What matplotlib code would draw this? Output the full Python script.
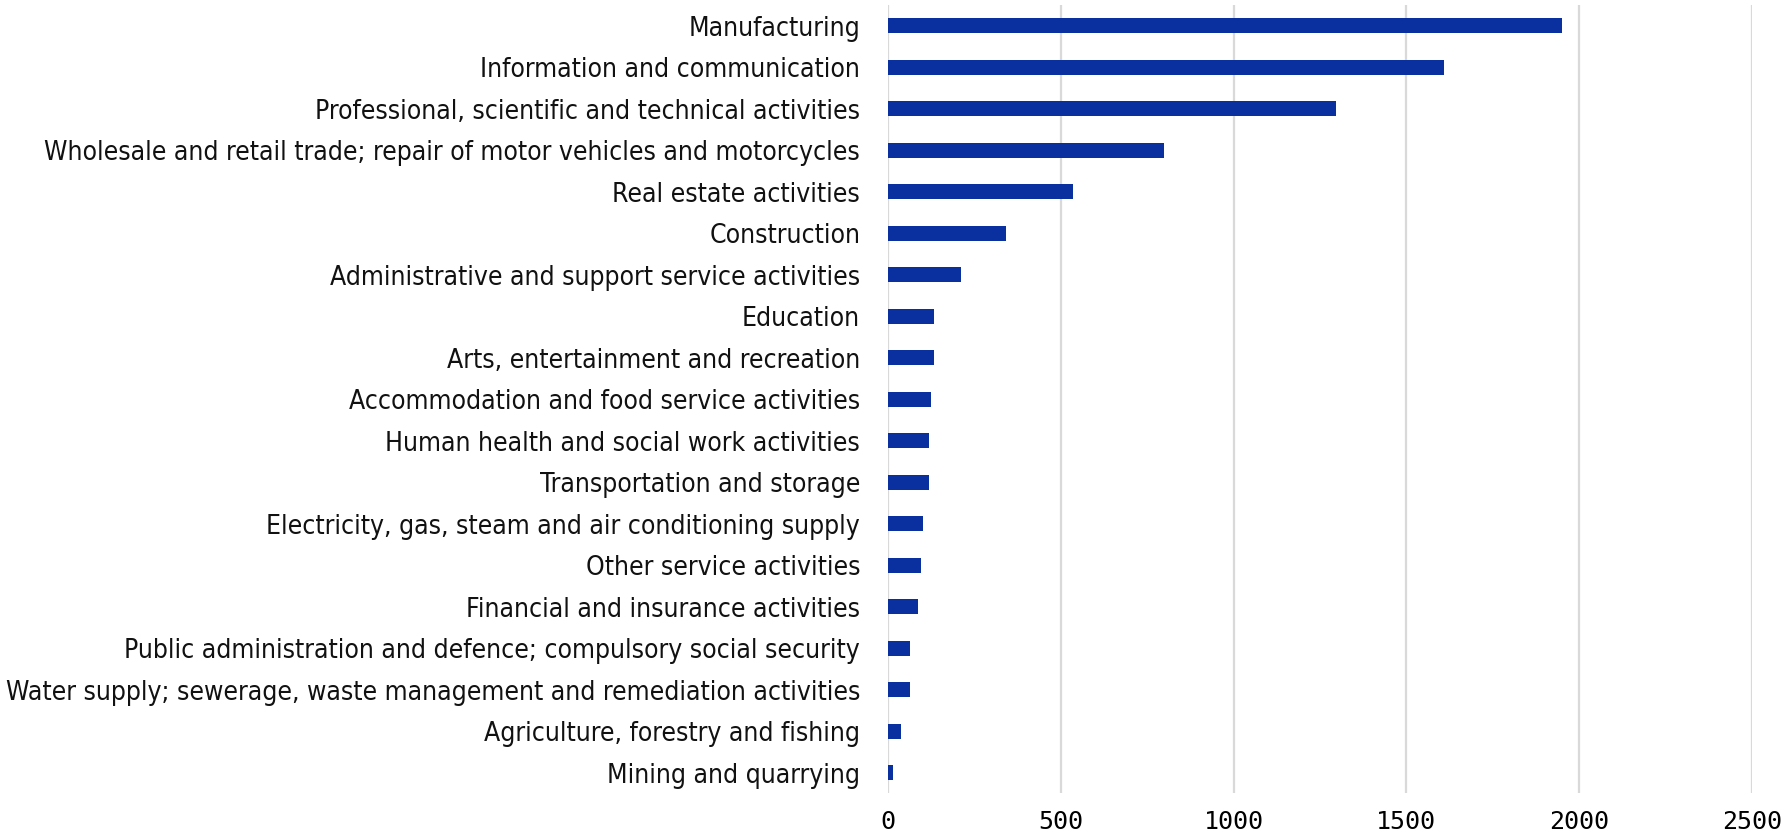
import matplotlib
matplotlib.use("Agg")
import matplotlib.pyplot as plt

# Sectores (de arriba hacia abajo) y valores
SECTORES = [
    "Manufacturing",
    "Information and communication",
    "Professional, scientific and technical activities",
    "Wholesale and retail trade; repair of motor vehicles and motorcycles",
    "Real estate activities",
    "Construction",
    "Administrative and support service activities",
    "Education",
    "Arts, entertainment and recreation",
    "Accommodation and food service activities",
    "Human health and social work activities",
    "Transportation and storage",
    "Electricity, gas, steam and air conditioning supply",
    "Other service activities",
    "Financial and insurance activities",
    "Public administration and defence; compulsory social security",
    "Water supply; sewerage, waste management and remediation activities",
    "Agriculture, forestry and fishing",
    "Mining and quarrying",
]
VALORES = [1950, 1608, 1295, 799, 536, 341, 211, 133, 133, 124, 119, 119,
           100, 95, 87, 65, 65, 39, 14]
TICKS_X = [0, 500, 1000, 1500, 2000, 2500]

AZUL = "#0a2f9e"
GRIS = "#d9d9d9"

fig = plt.figure(figsize=(17.91, 8.32), dpi=100)
ax = fig.add_axes([0.4958, 0.0463, 0.9782 - 0.4958, 0.994 - 0.0463])

pos = list(range(len(SECTORES)))
ax.barh(pos, VALORES, height=0.37, color=AZUL, zorder=3)

ax.set_ylim(len(SECTORES) - 0.5, -0.5)
ax.set_xlim(0, 2500)
ax.set_xticks(TICKS_X)
ax.set_xticklabels([str(t) for t in TICKS_X], family="DejaVu Sans Mono",
                   fontsize=18)
ax.set_yticks(pos)
ax.set_yticklabels(SECTORES, family="DejaVu Sans", stretch="condensed",
                   fontsize=19, color="#111111")

ax.grid(axis="x", color=GRIS, lw=1.6, zorder=0)
ax.grid(axis="y", visible=False)
for s in ax.spines.values():
    s.set_visible(False)
ax.tick_params(axis="y", length=0, pad=20)
ax.tick_params(axis="x", length=0, pad=12)

fig.savefig("out.png", dpi=100)
